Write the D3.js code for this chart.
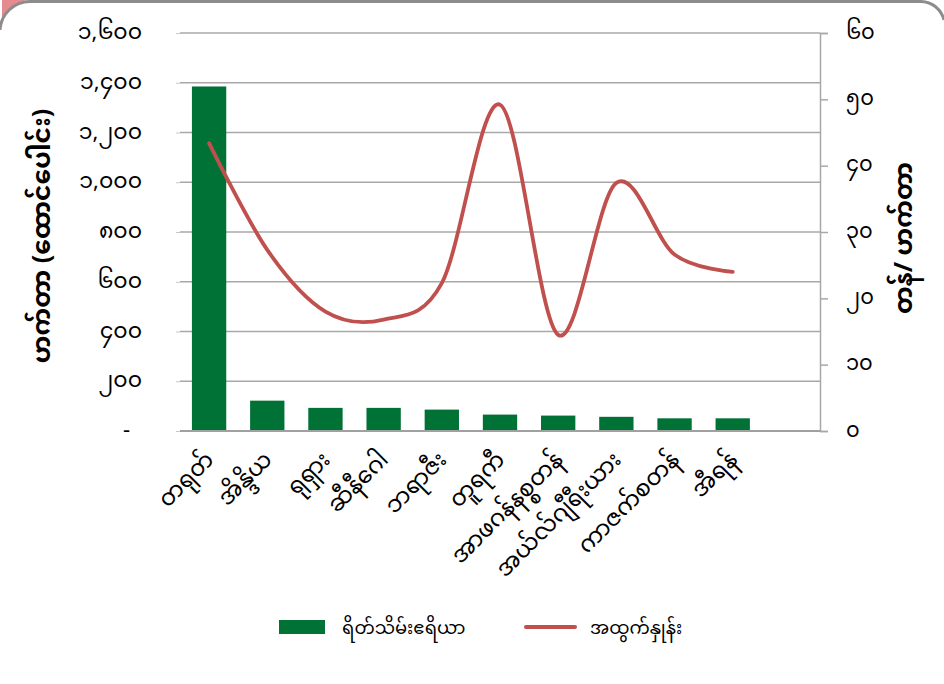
<!DOCTYPE html>
<html><head><meta charset="utf-8">
<script src="https://cdn.jsdelivr.net/npm/d3@7"></script>
<style>
html,body{margin:0;padding:0;background:#fff;}
body{width:944px;height:684px;overflow:hidden;position:relative;}
svg{position:absolute;left:0;top:0;}
text{font-family:"Noto Sans Myanmar","Padauk","Myanmar Text","Myanmar3","Noto Sans","DejaVu Sans",sans-serif;fill:#000;}
</style></head>
<body>
<svg id="c" width="944" height="684"></svg>
<script>
const categories = ["တရုတ်","အိန္ဒိယ","ရုရှား","ဆီနီဂေါ","ဘရာဇီး","တူရကီ","အာဖဂန်နစ္စတန်","အယ်လ်ဂျီရီးယား","ကာဇက်စတန်","အီရန်"];
const areaValues = [1385, 122, 93, 93, 86, 66, 62, 57, 51, 51];
const yieldValues = [43.4, 27.3, 18.0, 16.8, 22.3, 49.2, 14.5, 37.4, 26.6, 24.0];
const leftTicks = [0,200,400,600,800,1000,1200,1400,1600];
const leftTickLabels = ["-","၂၀၀","၄၀၀","၆၀၀","၈၀၀","၁,၀၀၀","၁,၂၀၀","၁,၄၀၀","၁,၆၀၀"];
const rightTicks = [0,10,20,30,40,50,60];
const rightTickLabels = ["၀","၁၀","၂၀","၃၀","၄၀","၅၀","၆၀"];
const leftTitle = "ဟက်တာ (ထောင်ပေါင်း)";
const rightTitle = "တန်/ ဟက်တာ";
const legendLabels = ["ရိတ်သိမ်းဧရိယာ","အထွက်နှုန်း"];

const svg = d3.select("#c");
// card frame
svg.append("path").attr("d","M0,0 H30 A28,28 0 0 0 2,28 V0 Z").attr("fill","#e58a8e");
svg.append("path").attr("d","M0,30 A30,30 0 0 1 30,1.5 H920 A24,24 0 0 1 944,20").attr("fill","none").attr("stroke","#8c8c8c").attr("stroke-width",3);

const L=180, R=820, T=33, B=431;
const slots = categories.concat(["__empty"]);
const x = d3.scaleBand().domain(slots).range([L,R]).paddingInner(0.41).paddingOuter(0.205);
const yL = d3.scaleLinear().domain([0,1600]).range([B,T]);
const yR = d3.scaleLinear().domain([0,60]).range([B,T]);

// gridlines
svg.append("g").selectAll("line").data(leftTicks.slice(1)).join("line")
  .attr("x1",L).attr("x2",R).attr("y1",d=>yL(d)).attr("y2",d=>yL(d))
  .attr("stroke","#a8a8a8").attr("stroke-width",1.5);

// left axis
const gl = svg.append("g").attr("transform",`translate(${L},0)`)
  .call(d3.axisLeft(yL).tickValues(leftTicks).tickSize(4).tickPadding(34).tickFormat((d,i)=>leftTickLabels[i]));
gl.select(".domain").remove();
gl.selectAll(".tick line").attr("stroke","#c8c8c8");
gl.selectAll(".tick text").style("font-size","22px").attr("dy","0.25em");
gl.selectAll(".tick text").filter((d,i)=>i===0).attr("dx","-12");

// right axis
const gr = svg.append("g").attr("transform",`translate(${R},0)`)
  .call(d3.axisRight(yR).tickValues(rightTicks).tickSize(8).tickPadding(18).tickFormat((d,i)=>rightTickLabels[i]));
gr.select(".domain").attr("stroke","#a8a8a8").attr("stroke-width",1.5);
gr.selectAll(".tick line").attr("stroke","#a8a8a8").attr("stroke-width",1.5);
gr.selectAll(".tick text").style("font-size","21px").attr("dy","0.25em");

// bars
svg.append("g").selectAll("rect").data(categories).join("rect")
  .attr("x",d=>x(d)).attr("width",x.bandwidth())
  .attr("y",(d,i)=>yL(areaValues[i])).attr("height",(d,i)=>B-yL(areaValues[i]))
  .attr("fill","#007236");

// baseline
svg.append("line").attr("x1",L).attr("x2",R).attr("y1",B).attr("y2",B).attr("stroke","#a0a0a0").attr("stroke-width",2);

// line
const line = d3.line().x((d,i)=>x(categories[i])+x.bandwidth()/2).y(d=>yR(d)).curve(d3.curveCardinal.tension(0));
svg.append("path").datum(yieldValues).attr("d",line).attr("fill","none")
  .attr("stroke","#c0504d").attr("stroke-width",3.8).attr("stroke-linecap","round");

// category labels
svg.append("g").selectAll("text").data(categories).join("text")
  .attr("transform",d=>`translate(${x(d)+x.bandwidth()/2+6},${B+30}) rotate(-45)`)
  .attr("text-anchor","end").style("font-size","23px").text(d=>d);

// axis titles
svg.append("text").attr("transform",`translate(50,236) rotate(-90)`).attr("text-anchor","middle")
  .style("font-size","25px").style("font-weight","bold").text(leftTitle);
svg.append("text").attr("transform",`translate(912,238) rotate(-90)`).attr("text-anchor","middle")
  .style("font-size","25px").style("font-weight","bold").text(rightTitle);

// legend
svg.append("rect").attr("x",279).attr("y",620).attr("width",46).attr("height",14).attr("fill","#007236");
svg.append("text").attr("x",342).attr("y",634).style("font-size","18px").text(legendLabels[0]);
svg.append("line").attr("x1",526).attr("x2",575).attr("y1",627).attr("y2",627).attr("stroke","#c0504d").attr("stroke-width",4).attr("stroke-linecap","round");
svg.append("text").attr("x",590).attr("y",634).style("font-size","18px").text(legendLabels[1]);
</script>
</body></html>
